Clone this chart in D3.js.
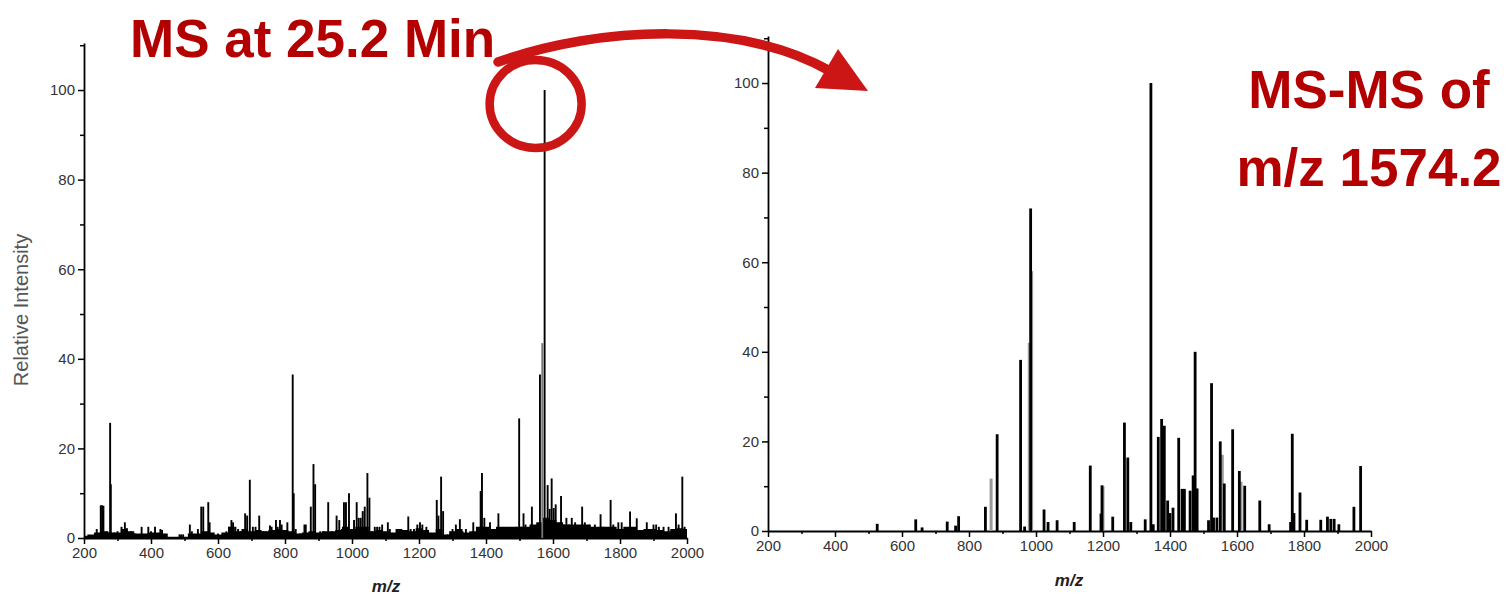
<!DOCTYPE html>
<html>
<head>
<meta charset="utf-8">
<script src="https://cdn.jsdelivr.net/npm/d3@7"></script>
<style>
  html, body { margin: 0; padding: 0; background: #fff; }
  svg { display: block; }
  .tick text { font-family: "Liberation Sans", Arial, sans-serif; font-size: 15px; fill: #333; }
</style>
</head>
<body>
<svg id="chart" width="1508" height="596"></svg>
<script>
// ---------- DATA ----------
// Left panel: full MS scan at 25.2 min (m/z, relative intensity)
const msMz = [238,250,254,258,270,278,280,290,300,312,322,328,340,352,372,392,400,412,428,433,485,490,496,
  516,522,540,550,556,571,575,600,625,633,640,645,652,660,668,681,687,695,704,712,723,735,742,755,760,773,778,785,790,807,
  823,826,832,845,858,862,877,885,890,905,915,929,940,954,962,970,976,982,991,1000,1006,1014,1020,1026,1032,1038,1046,1052,
  1060,1068,1075,1082,1090,1107,1113,1135,1150,1168,1175,1185,1195,1203,1210,1222,1232,1253,1258,1266,1272,1285,1300,1310,
  1322,1330,1340,1362,1370,1384,1388,1395,1402,1412,1420,1437,1445,1460,1480,1490,1499,1505,1512,1518,1525,1537,1542,
  1561,1568,1575,1584,1590,1596,1602,1608,1624,1632,1640,1648,1656,1666,1687,1695,1710,1725,1742,1750,1772,1780,1795,1805,
  1830,1838,1850,1858,1880,1900,1908,1916,1930,1945,1967,1975,1986,1993];
const msInt = [2,7.3,7.3,7.2,1.5,25.7,12,1.2,1.5,2.5,3.5,2.2,1.5,1,2.5,2.5,1.5,2.5,2,1.8,0.8,0.8,0.8,
  3,1.5,2,7,7,8,3.5,1,1.5,2.5,4,3.5,2.5,2,1.5,5.5,5,13,2.5,2.5,5,1.5,1.5,2.8,2.5,4,2.5,4,3,3.5,
  36.5,10,2,1,3,3,7,16.5,12,1.5,1.5,8,1.5,5,4,2,8,8,10,2,4,8,4.5,4.5,6,7,14.5,9,
  1.5,2.5,2.5,2.5,3,3.5,2,1.5,1.8,4.8,2,2,3,3.5,3,2.5,1,8.5,5,13.7,6,0.8,2,3,
  4.2,1.5,2,3.5,0.5,10.5,14.5,4.5,1.5,3.5,2,5.5,2,2,2,2.5,26.7,2.5,5.5,3,2,7,1,
  36.5,43.5,100,11.8,6.5,13.3,6.7,7.5,9.4,3,4.5,3,4.5,3.5,7,3.5,3,3,5.3,2.5,8.5,3,3.5,3.5,
  5.9,2,4.4,1.5,3.5,3,3,2.5,2.5,2.5,5.5,3,13.7,2.5];
// Left panel: low-level background signal, every 20 m/z from 200 to 2000
const msNoiseStart = 200, msNoiseStep = 20;
const msNoise = [0.5,0.8,1.2,1.5,1.2,1.2,2,1.5,1,1,1.2,1.2,1,0.3,0.3,0.3,1,1,1.5,1.2,
  0.8,1.2,2.5,1.5,2,1.5,1.8,1.5,1.8,2,1.8,1.5,1,1.2,1.5,1.2,1.5,1.5,1.8,2.5,
  2,2.5,2.5,1.5,1.8,1.5,1.2,2,1.8,1.5,2.2,1.8,1.2,2,0.8,1.5,2,1.2,1.5,2.5,
  2.5,2,2.5,2.5,2.5,2.5,2.5,3,3.5,4.5,4,3.5,3,3,3,3,2.5,2.5,2.5,2.5,
  2,2.5,2.5,1.8,2,2,1.8,1.5,2,2.2,2];

// Right panel: MS-MS of m/z 1574.2 (m/z, relative intensity)
const msmsMz = [526,641,660,735,760,769,849,884,954,966,984,1024,1036,1063,1114,1162,1194,1197,1229,1264,1274,1283,
  1326,1343,1350,1365,1375,1383,1393,1400,1409,1426,1436,1443,1460,1469,1475,1481,1515,1524,1530,1540,1550,1562,
  1587,1607,1623,1668,1696,1760,1765,1770,1788,1808,1850,1870,1880,1890,1904,1949,1969];
const msmsInt = [1.6,2.6,0.8,2.1,1.2,3.3,5.4,21.6,38.2,1,72,4.8,2,2.4,2,14.6,3.9,10.2,3.2,24.2,16.4,2,
  2.6,100,1.5,21,25,23.5,6.8,4,5.2,20.8,9.4,9.4,9,12.4,40,9.5,2.4,33,3,3,20,10.6,
  22.7,13.4,10.1,6.8,1.5,2,21.7,4,8.6,2.5,2.5,3.2,2.7,2.7,1.5,5.4,14.5];
// Right panel: weaker (grey) fragment traces
const msmsFaintMz = [866,980,987,1200,1556,1612];
const msmsFaintInt = [11.7,42,58,10,17,11];

// Axis ticks and labels
const xTicks = [200,300,400,500,600,700,800,900,1000,1100,1200,1300,1400,1500,1600,1700,1800,1900,2000];
const yTicks = [0,10,20,30,40,50,60,70,80,90,100,110];
const yLabel = "Relative Intensity";
const xLabel = "m/z";
const leftTitle = "MS at 25.2 Min";
const rightTitle = ["MS-MS of", "m/z 1574.2"];

// ---------- DRAW ----------
const svg = d3.select("#chart");
const RED_TEXT = "#b30000";
const RED_MARK = "#cc1515";
const FONT = '"Liberation Sans", Arial, sans-serif';

function panel(cfg) {
  const x = d3.scaleLinear().domain([200, 2000]).range([cfg.x0, cfg.x1]);
  const y = d3.scaleLinear().domain([0, 110.5]).range([cfg.y0, cfg.y1]);
  const g = svg.append("g");

  const xa = g.append("g").attr("transform", `translate(0,${cfg.y0})`)
    .call(d3.axisBottom(x).tickValues(xTicks).tickSize(6).tickSizeOuter(0).tickPadding(3)
      .tickFormat(d => d % 200 === 0 ? d : ""));
  xa.selectAll(".tick").filter(d => d % 200 !== 0).select("line").attr("y2", 3);
  const ya = g.append("g").attr("transform", `translate(${cfg.x0},0)`)
    .call(d3.axisLeft(y).tickValues(yTicks.filter(v => v <= 110)).tickSize(6).tickSizeOuter(0).tickPadding(3)
      .tickFormat(d => d % 20 === 0 ? d : ""));
  ya.selectAll(".tick").filter(d => d % 20 !== 0).select("line").attr("x2", -4);
  g.selectAll(".domain").attr("stroke", "#000").attr("stroke-width", 1.8);
  g.selectAll(".tick line").attr("stroke", "#000").attr("stroke-width", 1.5);

  g.append("text").attr("x", cfg.xLabelX).attr("y", cfg.xLabelY)
    .attr("text-anchor", "middle").attr("font-family", FONT).attr("font-size", 17)
    .attr("font-weight", "bold").attr("font-style", "italic").attr("fill", "#222").text(xLabel);
  return { x, y, g };
}

// Left panel
const L = panel({ x0: 84, x1: 687, y0: 538, y1: 43, xLabelX: 386, xLabelY: 592 });
const noiseData = msNoise.map((v, i) => ({ mz: msNoiseStart + i * msNoiseStep, v }));
L.g.append("path").datum(noiseData)
  .attr("d", d3.area().x(d => L.x(d.mz)).y0(L.y(0)).y1(d => L.y(d.v)).curve(d3.curveStep))
  .attr("fill", "#000");
L.g.append("g").selectAll("line").data(msMz.map((m, i) => ({ mz: m, v: msInt[i] })))
  .join("line")
  .attr("x1", d => L.x(d.mz)).attr("x2", d => L.x(d.mz))
  .attr("y1", L.y(0)).attr("y2", d => L.y(d.v))
  .attr("stroke", d => d.mz === 1568 ? "#777" : "#000").attr("stroke-width", 1.9);

L.g.append("text").attr("transform", "translate(28,310) rotate(-90)")
  .attr("text-anchor", "middle").attr("font-family", FONT).attr("font-size", 20)
  .attr("fill", "#555").text(yLabel);

// Right panel
const R = panel({ x0: 768, x1: 1371, y0: 531, y1: 36, xLabelX: 1069, xLabelY: 586 });
R.g.append("g").selectAll("rect").data(msmsFaintMz.map((m, i) => ({ mz: m, v: msmsFaintInt[i] })))
  .join("rect")
  .attr("x", d => R.x(d.mz) - 1.5).attr("width", 3)
  .attr("y", d => R.y(d.v)).attr("height", d => R.y(0) - R.y(d.v))
  .attr("fill", "#9a9a9a");
R.g.append("g").selectAll("rect").data(msmsMz.map((m, i) => ({ mz: m, v: msmsInt[i] })))
  .join("rect")
  .attr("x", d => R.x(d.mz) - 1.4).attr("width", 2.8)
  .attr("y", d => R.y(d.v)).attr("height", d => R.y(0) - R.y(d.v))
  .attr("fill", "#000");

// Annotations
svg.append("text").attr("x", 130).attr("y", 57)
  .attr("font-family", FONT).attr("font-size", 53).attr("font-weight", "bold")
  .attr("fill", RED_TEXT).text(leftTitle);
rightTitle.forEach((t, i) => {
  svg.append("text").attr("x", 1369).attr("y", 108 + i * 78)
    .attr("text-anchor", "middle")
    .attr("font-family", FONT).attr("font-size", 53).attr("font-weight", "bold")
    .attr("fill", RED_TEXT).text(t);
});

const peakX = L.x(1575);
svg.append("ellipse").attr("cx", peakX - 9).attr("cy", 104).attr("rx", 46).attr("ry", 44)
  .attr("fill", "none").attr("stroke", RED_MARK).attr("stroke-width", 8.5);
svg.append("path")
  .attr("d", "M498,62 C600,26 740,20 830,71")
  .attr("fill", "none").attr("stroke", RED_MARK).attr("stroke-width", 9.5).attr("stroke-linecap", "round");
svg.append("path")
  .attr("d", "M838,49 L868,91 L815,88 Z")
  .attr("fill", RED_MARK);
</script>
</body>
</html>
